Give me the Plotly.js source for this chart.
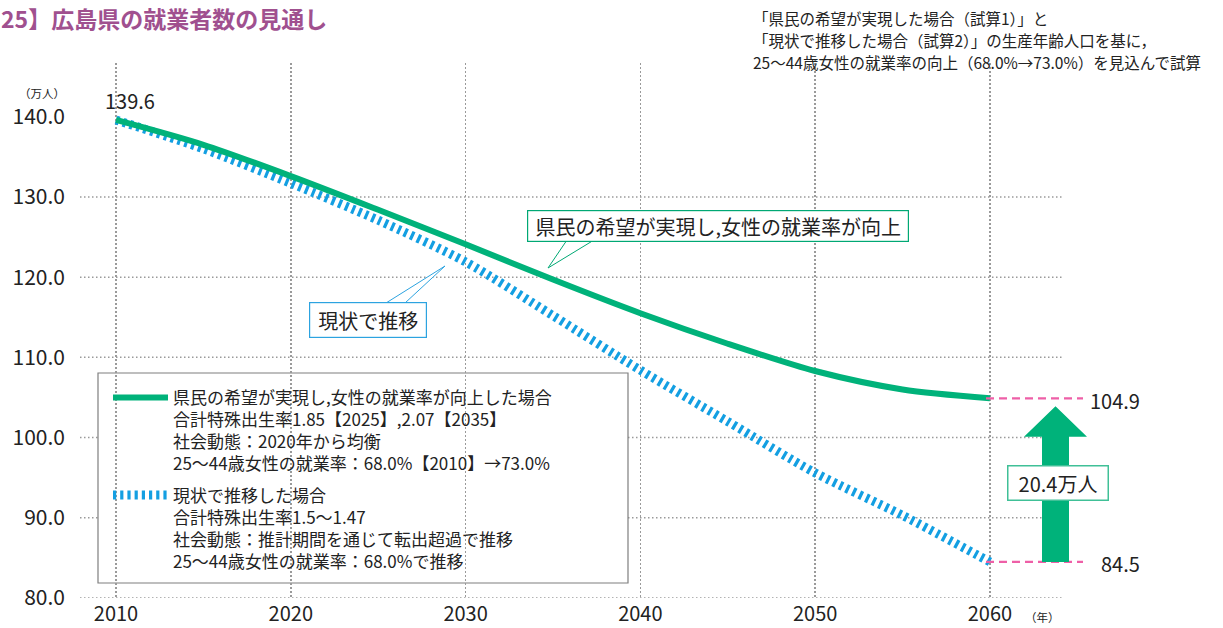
<!DOCTYPE html>
<html><head><meta charset="utf-8">
<script src="https://cdn.plot.ly/plotly-3.0.1.min.js"></script>
<style>html,body{margin:0;padding:0;background:#fff}#chart{width:1223px;height:628px}</style>
</head><body><div id="chart"></div>
<script>
// ---- data ----
const years = [2010, 2015, 2020, 2025, 2030, 2035, 2040, 2045, 2050, 2055, 2060];
const hopeValues = [139.6, 136.5, 132.6, 128.4, 124.1, 119.7, 115.5, 111.7, 108.3, 106.0, 104.9];
const trendValues = [139.6, 136.0, 131.7, 127.1, 121.9, 115.2, 108.4, 102.0, 95.6, 90.3, 84.5];
const xTicks = [2010, 2020, 2030, 2040, 2050, 2060];
const yTicks = [80, 90, 100, 110, 120, 130, 140];
const hopeLegendLines = [
  '県民の希望が実現し,女性の就業率が向上した場合',
  '合計特殊出生率1.85【2025】,2.07【2035】',
  '社会動態：2020年から均衡',
  '25～44歳女性の就業率：68.0%【2010】→73.0%'
];
const trendLegendLines = [
  '現状で推移した場合',
  '合計特殊出生率1.5～1.47',
  '社会動態：推計期間を通じて転出超過で推移',
  '25～44歳女性の就業率：68.0%で推移'
];
const noteLines = [
  '「県民の希望が実現した場合（試算1）」と',
  '「現状で推移した場合（試算2）」の生産年齢人口を基に，',
  '25～44歳女性の就業率の向上（68.0%→73.0%）を見込んで試算'
];
const titleText = '25】広島県の就業者数の見通し';
const hopeCallout = '県民の希望が実現し,女性の就業率が向上';
const trendCallout = '現状で推移';
const unitY = '（万人）';
const unitX = '（年）';
const unitDiff = '万人';

// ---- style ----
const FONT = '"Noto Sans CJK JP", "Noto Sans", sans-serif';
const GREEN = '#00b27a';
const BLUE = '#139fe2';
const PINK = '#ee5fa7';
const GRID = '#9a9a9a';
const TXT = '#222222';
const L = 80, R = 160, T = 63, B = 30, W = 1223, H = 628;
const PW = W - L - R, PH = H - T - B;
const px = x => (x - L) / PW;
const py = y => (H - B - y) / PH;

const first = years[0];
const hopeEnd = hopeValues[hopeValues.length - 1];
const trendEnd = trendValues[trendValues.length - 1];
const diff = (hopeEnd - trendEnd).toFixed(1);

const traces = [
  {
    x: years, y: trendValues, type: 'scatter', mode: 'lines',
    name: trendLegendLines.join('<br>'), legendrank: 2, legendgroup: 'b',
    line: {color: BLUE, width: 9, dash: '3.2px,4px', shape: 'spline', smoothing: 0.8},
    hoverinfo: 'x+y'
  },
  {
    x: years, y: hopeValues, type: 'scatter', mode: 'lines',
    name: hopeLegendLines.join('<br>'), legendrank: 1, legendgroup: 'a',
    line: {color: GREEN, width: 6, shape: 'spline', smoothing: 0.8},
    hoverinfo: 'x+y'
  }
];

const shapes = [];
// horizontal dotted grid (no line at top tick)
yTicks.slice(0, -1).forEach(v => shapes.push({
  type: 'line', xref: 'paper', yref: 'y', x0: 0, x1: 1, y0: v, y1: v,
  layer: 'below', line: {color: GRID, width: 1.5, dash: '1.5px,2.5px'}
}));
// legend box
shapes.push({type: 'rect', xref: 'paper', yref: 'paper',
  x0: px(98), x1: px(628), y0: py(583), y1: py(373),
  layer: 'between', fillcolor: '#ffffff', line: {color: '#7f7f7f', width: 1.2}});
// pink reference lines
[hopeEnd, trendEnd].forEach(v => shapes.push({
  type: 'line', xref: 'paper', yref: 'y', x0: px(986), x1: px(1083), y0: v, y1: v,
  layer: 'above', line: {color: PINK, width: 2.2, dash: '8px,5px'}
}));
// green arrow
(function () {
  const xs1 = px(1042), xs2 = px(1069), xh1 = px(1024), xh2 = px(1087), xc = px(1055.5);
  const yb = trendEnd, yh = hopeEnd - 4.8, yt = hopeEnd - 1.0;
  shapes.push({type: 'path', xref: 'paper', yref: 'y', layer: 'above',
    path: `M${xs1},${yb} L${xs2},${yb} L${xs2},${yh} L${xh2},${yh} L${xc},${yt} L${xh1},${yh} L${xs1},${yh} Z`,
    fillcolor: GREEN, line: {width: 0}});
})();
// callout pointers
shapes.push({type: 'path', xref: 'paper', yref: 'paper', layer: 'above',
  path: `M${px(567)},${py(240)} L${px(548)},${py(268)} L${px(594)},${py(240)} Z`,
  fillcolor: '#ffffff', line: {color: '#00a874', width: 1}});
shapes.push({type: 'path', xref: 'paper', yref: 'paper', layer: 'above',
  path: `M${px(386)},${py(303)} L${px(445)},${py(266)} L${px(405)},${py(303)} Z`,
  fillcolor: '#ffffff', line: {color: '#2ca3e0', width: 1}});

const ann = [];
ann.push({text: titleText, xref: 'paper', yref: 'paper', x: px(0), y: py(0), xanchor: 'left', yanchor: 'top',
  borderpad: 0, showarrow: false, font: {family: FONT, size: 23, color: '#a0508f', weight: 'bold'}});
noteLines.forEach((t, i) => ann.push({text: t, xref: 'paper', yref: 'paper', x: px(751), y: py(18 + 22 * i),
  xanchor: 'left', yanchor: 'middle', showarrow: false, font: {family: FONT, size: 15.5, color: TXT}}));
ann.push({text: unitY, xref: 'paper', yref: 'paper', x: px(66), y: py(93), xanchor: 'right', yanchor: 'middle',
  borderpad: 0, showarrow: false, font: {family: FONT, size: 11.5, color: TXT}});
ann.push({text: unitX, xref: 'paper', yref: 'paper', x: px(1042), y: py(617), xanchor: 'center', yanchor: 'middle',
  borderpad: 0, showarrow: false, font: {family: FONT, size: 11.5, color: TXT}});
ann.push({text: hopeValues[0].toFixed(1), xref: 'x', yref: 'y', x: first, y: hopeValues[0], xshift: 14, yshift: 19,
  xanchor: 'center', yanchor: 'middle', showarrow: false, font: {family: FONT, size: 20, color: TXT}});
[hopeEnd, trendEnd].forEach(v => ann.push({text: v.toFixed(1), xref: 'paper', yref: 'y', x: px(1142), y: v, yshift: -2,
  xanchor: 'right', yanchor: 'middle', showarrow: false, font: {family: FONT, size: 20, color: TXT}}));
ann.push({text: diff + unitDiff, xref: 'paper', yref: 'paper', x: px(1058), y: py(482.5),
  xanchor: 'center', yanchor: 'middle', showarrow: false, width: 95, height: 29, borderpad: 2,
  bgcolor: '#ffffff', bordercolor: '#40c097', borderwidth: 1.5, font: {family: FONT, size: 20, color: TXT}});
ann.push({text: hopeCallout, xref: 'paper', yref: 'paper', x: px(718), y: py(225.5),
  xanchor: 'center', yanchor: 'middle', showarrow: false, width: 376, height: 26, borderpad: 2,
  bgcolor: '#ffffff', bordercolor: '#00a874', borderwidth: 1.2, font: {family: FONT, size: 20, color: TXT}});
ann.push({text: trendCallout, xref: 'paper', yref: 'paper', x: px(368), y: py(320),
  xanchor: 'center', yanchor: 'middle', showarrow: false, width: 112, height: 30, borderpad: 2,
  bgcolor: '#ffffff', bordercolor: '#2ca3e0', borderwidth: 1.2, font: {family: FONT, size: 20, color: TXT}});

const layout = {
  width: W, height: H, margin: {l: L, r: R, t: T, b: B, pad: 0},
  paper_bgcolor: '#ffffff', plot_bgcolor: '#ffffff',
  font: {family: FONT, color: TXT},
  showlegend: true,
  legend: {x: px(108), y: py(380), xanchor: 'left', yanchor: 'top', bgcolor: 'rgba(0,0,0,0)', borderwidth: 0,
    itemwidth: 55, valign: 'top', traceorder: 'grouped', tracegroupgap: 6,
    font: {family: FONT, size: 17, color: TXT}},
  xaxis: {range: [2007.94, 2064.18], tickvals: xTicks, ticktext: xTicks.map(String), showgrid: true,
    gridcolor: GRID, gridwidth: 1.5, griddash: '1.5px,2.5px', zeroline: false, showline: false,
    ticks: '', ticklabelstandoff: 2, tickfont: {family: FONT, size: 20, color: TXT}, fixedrange: true},
  yaxis: {range: [80, 146.7], tickvals: yTicks, ticktext: yTicks.map(v => v.toFixed(1)), showgrid: false,
    zeroline: false, showline: false, ticks: '', ticklabelstandoff: 14,
    tickfont: {family: FONT, size: 21, color: TXT}, fixedrange: true},
  shapes: shapes, annotations: ann
};
Plotly.newPlot('chart', traces, layout, {displayModeBar: false, staticPlot: true});
</script></body></html>
